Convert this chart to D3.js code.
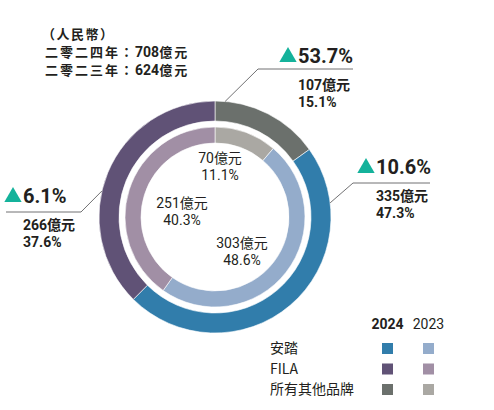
<!DOCTYPE html>
<html lang="zh-Hant">
<head>
<meta charset="UTF-8">
<title>收益分佈</title>
<script src="https://d3js.org/d3.v7.min.js"></script>
<style>
  body { margin: 0; background: #fff; }
  svg text { font-family: Roboto, "Noto Sans CJK TC", sans-serif; fill: #231f20; }
  .cjk { font-family: "Noto Sans CJK TC", sans-serif; }
</style>
</head>
<body>
<div id="chart"></div>
<script>
// brands, in legend order
var brands = ['安踏', 'FILA', '所有其他品牌'];
var values2024 = [335, 266, 107];
var shares2024 = ['47.3%', '37.6%', '15.1%'];
var growth = ['10.6%', '6.1%', '53.7%'];
var values2023 = [303, 251, 70];
var shares2023 = ['48.6%', '40.3%', '11.1%'];
var years = ['2024', '2023'];
var yearNames = ['二零二四年：', '二零二三年：'];
var totals = [708, 624];
// ring goes clockwise from 12 o'clock: others, 安踏, FILA
var ringOrder = [2, 0, 1];

var colors2024 = ['#317dab', '#605276', '#6b706c'];
var colors2023 = ['#94accb', '#a18fa5', '#aaa8a3'];

var w = 494, h = 410;
var cx = 215, cy = 217;

var svg = d3.select('#chart').append('svg')
    .attr('width', w)
    .attr('height', h);

var pie = d3.pie().sort(null).value(function (i) { return i.v; });

function ring(values, colors, r0, r1) {
    var arcs = pie(ringOrder.map(function (i) { return { i: i, v: values[i] }; }));
    var arc = d3.arc().innerRadius(r0).outerRadius(r1);
    svg.append('g')
        .attr('transform', 'translate(' + cx + ',' + cy + ')')
        .selectAll('path')
        .data(arcs)
        .enter()
        .append('path')
        .attr('d', arc)
        .attr('fill', function (d) { return colors[d.data.i]; })
        .attr('stroke', '#fff')
        .attr('stroke-width', 0.6);
    return arcs;
}

ring(values2024, colors2024, 96, 116);
ring(values2023, colors2023, 74, 90);

// inner labels (2023)
var innerPos = [[242, 248], [182, 208], [220, 163]];
brands.forEach(function (b, i) {
    var t = svg.append('text')
        .attr('x', innerPos[i][0])
        .attr('y', innerPos[i][1])
        .attr('text-anchor', 'middle')
        .style('font-size', '14px');
    t.append('tspan').text(values2023[i]);
    t.append('tspan').attr('class', 'cjk').text('億元');
    svg.append('text')
        .attr('x', innerPos[i][0])
        .attr('y', innerPos[i][1] + 17)
        .attr('text-anchor', 'middle')
        .style('font-size', '14px')
        .text(shares2023[i]);
});

// outer labels (2024) with leader lines
// [angle deg where line leaves ring, elbow x, elbow y, line end x, text x, growth y]
var outerPos = [
    [83, 353, 183, 430, 376, 174],
    [283, 81, 212, 6, 23, 203],
    [5, 258, 69, 353, 298, 63]
];
var tri = d3.symbol().type(d3.symbolTriangle).size(130);

brands.forEach(function (b, i) {
    var p = outerPos[i];
    var a = p[0] * Math.PI / 180;
    var x0 = cx + 116 * Math.sin(a), y0 = cy - 116 * Math.cos(a);
    svg.append('path')
        .attr('d', d3.line()([[x0, y0], [p[1], p[2]], [p[3], p[2]]]))
        .attr('fill', 'none')
        .attr('stroke', '#4d4d4f')
        .attr('stroke-width', 0.8);
    svg.append('path')
        .attr('d', tri)
        .attr('transform', 'translate(' + (p[4] - 10) + ',' + (p[5] - 6) + ')')
        .attr('fill', '#14b29b');
    svg.append('text')
        .attr('x', p[4])
        .attr('y', p[5])
        .style('font-size', '20px')
        .style('font-weight', 'bold')
        .text(growth[i]);
    var t = svg.append('text')
        .attr('x', p[4])
        .attr('y', p[5] + 27)
        .style('font-size', '14px')
        .style('font-weight', 'bold');
    t.append('tspan').text(values2024[i]);
    t.append('tspan').attr('class', 'cjk').text('億元');
    svg.append('text')
        .attr('x', p[4])
        .attr('y', p[5] + 44)
        .style('font-size', '14px')
        .style('font-weight', 'bold')
        .text(shares2024[i]);
});

// header
svg.append('text')
    .attr('class', 'cjk')
    .attr('x', 42)
    .attr('y', 39)
    .style('font-size', '13px')
    .style('letter-spacing', '1.5px')
    .style('font-weight', 'bold')
    .text('（人民幣）');
yearNames.forEach(function (s, i) {
    var t = svg.append('text')
        .attr('x', 45)
        .attr('y', 57 + i * 18)
        .style('font-size', '13px')
        .style('font-weight', 'bold');
    t.append('tspan').attr('class', 'cjk').style('letter-spacing', '2px').text(s);
    t.append('tspan').style('font-size', '14px').text(totals[i]);
    t.append('tspan').attr('class', 'cjk').style('letter-spacing', '2px').text('億元');
});

// legend
var colX = [382, 423];
years.forEach(function (y, j) {
    svg.append('text')
        .attr('x', colX[j] + 5.5)
        .attr('y', 329)
        .attr('text-anchor', 'middle')
        .style('font-size', '14px')
        .style('font-weight', j === 0 ? 'bold' : 'normal')
        .text(y);
});
brands.forEach(function (b, i) {
    var ry = 353 + i * 20.5;
    svg.append('text')
        .attr('class', 'cjk')
        .attr('x', 270)
        .attr('y', ry)
        .style('font-size', '14px')
        .text(b);
    [colors2024[i], colors2023[i]].forEach(function (c, j) {
        svg.append('rect')
            .attr('x', colX[j])
            .attr('y', ry - 10)
            .attr('width', 11)
            .attr('height', 11)
            .attr('fill', c);
    });
});
</script>
</body>
</html>
